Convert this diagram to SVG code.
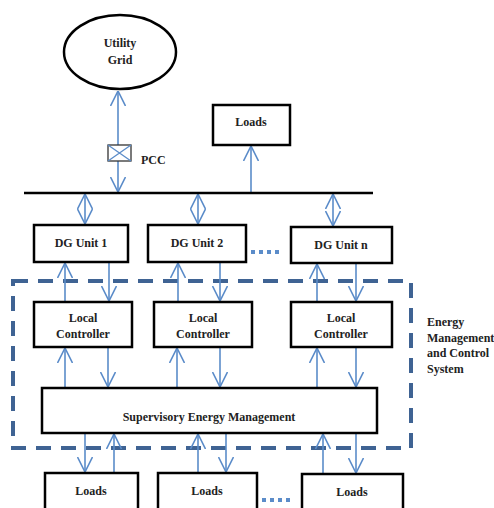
<svg xmlns="http://www.w3.org/2000/svg" width="494" height="508" viewBox="0 0 494 508">
<style>
.box{fill:#fff;stroke:#000;stroke-width:2.5}
.t{font-family:"Liberation Serif","Times New Roman",serif;font-weight:bold;font-size:12px;fill:#222;text-anchor:middle}
.tl{font-family:"Liberation Serif","Times New Roman",serif;font-weight:bold;font-size:12px;fill:#222}
.c{stroke:#5b8cc9;stroke-width:1.6;fill:none}
.a{marker-end:url(#ah)}
.b{marker-start:url(#ah);marker-end:url(#ah)}
</style>
<defs>
<marker id="ah" viewBox="0 0 15 16" refX="15" refY="8" markerWidth="15" markerHeight="16" markerUnits="userSpaceOnUse" orient="auto-start-reverse">
<path d="M0,0.5 L15,8 L0,15.5" fill="none" stroke="#5b8cc9" stroke-width="1.6"/>
</marker>
</defs>
<rect width="494" height="508" fill="#fff"/>
<g id="frame">
<rect x="13" y="281" width="398" height="167" fill="none" stroke="#3f6393" stroke-width="4" stroke-dasharray="15 10"/>
</g>
<g id="connectors">
<line class="c b" x1="118" y1="91" x2="118" y2="192"/>
<line class="c a" x1="251" y1="192" x2="251" y2="146"/>
<line class="c b" x1="85" y1="194" x2="85" y2="224"/>
<line class="c b" x1="198" y1="194" x2="198" y2="224"/>
<line class="c b" x1="333" y1="194" x2="333" y2="226"/>
<line class="c a" x1="65" y1="302" x2="65" y2="263"/>
<line class="c a" x1="109" y1="263" x2="109" y2="301"/>
<line class="c a" x1="178" y1="302" x2="178" y2="263"/>
<line class="c a" x1="220" y1="263" x2="220" y2="301"/>
<line class="c a" x1="317" y1="302" x2="317" y2="264"/>
<line class="c a" x1="356" y1="264" x2="356" y2="301"/>
<line class="c a" x1="65" y1="388" x2="65" y2="348"/>
<line class="c a" x1="108" y1="348" x2="108" y2="387"/>
<line class="c a" x1="177" y1="388" x2="177" y2="348"/>
<line class="c a" x1="220" y1="348" x2="220" y2="387"/>
<line class="c a" x1="317" y1="388" x2="317" y2="348"/>
<line class="c a" x1="356" y1="348" x2="356" y2="387"/>
<line class="c a" x1="85" y1="434" x2="85" y2="472"/>
<line class="c a" x1="114" y1="473" x2="114" y2="434"/>
<line class="c a" x1="198" y1="473" x2="198" y2="434"/>
<line class="c a" x1="226" y1="434" x2="226" y2="472"/>
<line class="c a" x1="323" y1="474" x2="323" y2="434"/>
<line class="c a" x1="356" y1="434" x2="356" y2="473"/>
</g>
<g id="bus"><line x1="24" y1="193" x2="373" y2="193" stroke="#000" stroke-width="2.5"/></g>
<g id="utility-grid">
<ellipse cx="120" cy="52" rx="56" ry="37" fill="#fff" stroke="#000" stroke-width="2.5"/>
<text class="t" x="120" y="47">Utility</text>
<text class="t" x="120" y="64">Grid</text>
</g>
<g id="pcc">
<rect x="108" y="145" width="23" height="16" fill="#fff" stroke="#333" stroke-width="1.3"/>
<path d="M108,145 L131,161 M131,145 L108,161" stroke="#5b8cc9" stroke-width="1.3"/>
<text class="tl" x="141" y="164">PCC</text>
</g>
<g id="loads-top"><rect class="box" x="213" y="105" width="77" height="40"/><text class="t" x="251" y="126">Loads</text></g>
<g id="dg1"><rect class="box" x="34" y="225" width="94" height="37"/><text class="t" x="81" y="247">DG Unit 1</text></g>
<g id="dg2"><rect class="box" x="148" y="225" width="98" height="37"/><text class="t" x="197" y="247">DG Unit 2</text></g>
<g id="dgn"><rect class="box" x="291" y="227" width="101" height="36"/><text class="t" x="341" y="249">DG Unit n</text></g>
<g id="dots-dg" fill="#5b8cc9"><rect x="251" y="250" width="4" height="4"/><rect x="259" y="250" width="4" height="4"/><rect x="267" y="250" width="4" height="4"/><rect x="275" y="250" width="4" height="4"/></g>
<g id="lc1"><rect class="box" x="34" y="302" width="98" height="45"/><text class="t" x="83" y="322">Local</text><text class="t" x="83" y="338">Controller</text></g>
<g id="lc2"><rect class="box" x="154" y="302" width="98" height="45"/><text class="t" x="203" y="322">Local</text><text class="t" x="203" y="338">Controller</text></g>
<g id="lc3"><rect class="box" x="291" y="302" width="101" height="45"/><text class="t" x="341" y="322">Local</text><text class="t" x="341" y="338">Controller</text></g>
<g id="sem"><rect class="box" x="42" y="388" width="335" height="45"/><text class="t" x="209" y="421">Supervisory Energy Management</text></g>
<g id="emcs-label">
<text class="tl" x="427" y="326">Energy</text>
<text class="tl" x="427" y="342">Management</text>
<text class="tl" x="427" y="357">and Control</text>
<text class="tl" x="427" y="373">System</text>
</g>
<g id="loads1"><rect class="box" x="45" y="473" width="93" height="45"/><text class="t" x="91" y="495">Loads</text></g>
<g id="loads2"><rect class="box" x="158" y="473" width="99" height="45"/><text class="t" x="207" y="495">Loads</text></g>
<g id="loads3"><rect class="box" x="302" y="474" width="101" height="45"/><text class="t" x="352" y="496">Loads</text></g>
<g id="dots-loads" fill="#5b8cc9"><rect x="262" y="498" width="4" height="4"/><rect x="270" y="498" width="4" height="4"/><rect x="278" y="498" width="4" height="4"/><rect x="286" y="498" width="4" height="4"/></g>
</svg>
